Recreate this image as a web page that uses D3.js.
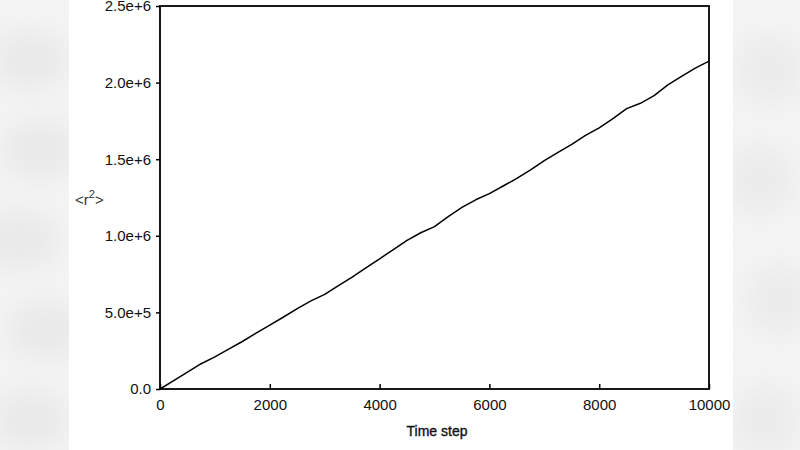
<!DOCTYPE html>
<html>
<head>
<meta charset="utf-8">
<script src="https://cdn.jsdelivr.net/npm/d3@7"></script>
<style>
  html, body { margin: 0; padding: 0; background: #ffffff; }
  svg { display: block; font-family: "Liberation Sans", Arial, sans-serif; }
</style>
</head>
<body>
<svg id="chart" width="800" height="450"></svg>
<script>
// ---- data ----
const timeSteps = [0, 250, 500, 750, 1000, 1250, 1500, 1750, 2000, 2250, 2500, 2750, 3000,
  3250, 3500, 3750, 4000, 4250, 4500, 4750, 5000, 5250, 5500, 5750, 6000, 6250, 6500,
  6750, 7000, 7250, 7500, 7750, 8000, 8250, 8500, 8750, 9000, 9250, 9500, 9750, 10000];
const r2Values = [0, 55000, 110000, 165000, 210000, 260000, 310000, 365000, 417000, 470000,
  525000, 575000, 618000, 675000, 730000, 790000, 850000, 910000, 970000, 1020000, 1060000,
  1125000, 1185000, 1235000, 1275000, 1325000, 1375000, 1430000, 1490000, 1545000, 1597000,
  1655000, 1705000, 1765000, 1830000, 1865000, 1915000, 1985000, 2040000, 2095000, 2140000];
const xTicks = [0, 2000, 4000, 6000, 8000, 10000];
const yTicks = [0, 500000, 1000000, 1500000, 2000000, 2500000];
const yTickLabels = ["0.0", "5.0e+5", "1.0e+6", "1.5e+6", "2.0e+6", "2.5e+6"];
const xTitle = "Time step";

(function () {
const svg = d3.select("#chart");
const W = 800, H = 450;

// ---- backdrop: blurred grey side panels ----
const defs = svg.append("defs");
defs.append("filter").attr("id", "blur").attr("x", "-50%").attr("y", "-50%")
  .attr("width", "200%").attr("height", "200%")
  .append("feGaussianBlur").attr("stdDeviation", 14);
svg.append("rect").attr("x", 0).attr("y", 0).attr("width", W).attr("height", H).attr("fill", "#f4f4f4");
const blobs = svg.append("g").attr("filter", "url(#blur)");
[[30, 60], [40, 150], [20, 240], [45, 330], [30, 420]].forEach(([cx, cy]) => {
  blobs.append("ellipse").attr("cx", cx).attr("cy", cy).attr("rx", 40).attr("ry", 30).attr("fill", "#e9e9e9");
});
[[770, 70], [760, 180], [780, 300], [765, 420]].forEach(([cx, cy]) => {
  blobs.append("ellipse").attr("cx", cx).attr("cy", cy).attr("rx", 35).attr("ry", 35).attr("fill", "#ebebeb");
});
svg.append("rect").attr("x", 69).attr("y", 0).attr("width", 664).attr("height", H).attr("fill", "#ffffff");

// ---- plot ----
const pL = 160, pR = 709, pT = 6, pB = 389;
const x = d3.scaleLinear().domain([0, 10000]).range([pL, pR]);
const y = d3.scaleLinear().domain([0, 2500000]).range([pB, pT]);

const xAxis = d3.axisBottom(x).tickValues(xTicks).tickFormat(d3.format("d"))
  .tickSizeInner(-5).tickSizeOuter(0).tickPadding(10);
const yAxis = d3.axisLeft(y).tickValues(yTicks).tickFormat((d, i) => yTickLabels[i])
  .tickSizeInner(4).tickSizeOuter(0).tickPadding(5);

const gx = svg.append("g").attr("transform", `translate(0,${pB})`).call(xAxis);
const gy = svg.append("g").attr("transform", `translate(${pL},0)`).call(yAxis);
[gx, gy].forEach(g => {
  g.select(".domain").remove();
  g.selectAll(".tick line").attr("stroke", "#000").attr("stroke-width", 1.5);
  g.selectAll(".tick text").attr("fill", "#111").attr("font-size", 15)
    .attr("font-family", "'Liberation Sans', Arial, sans-serif");
});

// frame
svg.append("rect").attr("x", pL).attr("y", pT).attr("width", pR - pL).attr("height", pB - pT)
  .attr("fill", "none").attr("stroke", "#000").attr("stroke-width", 1.8);

// data line
const line = d3.line().x((d, i) => x(timeSteps[i])).y(d => y(d));
svg.append("path").datum(r2Values).attr("d", line)
  .attr("fill", "none").attr("stroke", "#000").attr("stroke-width", 1.5).attr("stroke-linejoin", "round");

// axis titles
svg.append("text").attr("x", 437).attr("y", 436).attr("text-anchor", "middle")
  .attr("font-size", 14).attr("fill", "#111").attr("stroke", "#111").attr("stroke-width", 0.35)
  .text(xTitle);

const yt = svg.append("text").attr("x", 75).attr("y", 205).attr("font-size", 15).attr("fill", "#333");
yt.append("tspan").text("<r");
yt.append("tspan").attr("font-size", 11).attr("dy", -7).text("2");
yt.append("tspan").attr("dy", 7).text(">");
})();
</script>
</body>
</html>
